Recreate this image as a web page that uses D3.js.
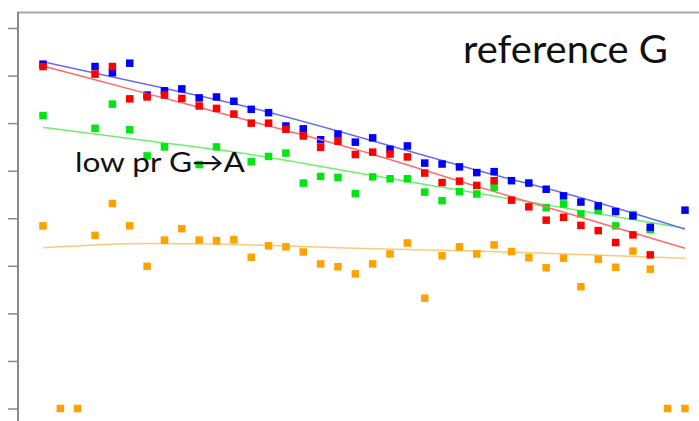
<!DOCTYPE html>
<html>
<head>
<meta charset="utf-8">
<script src="https://cdn.jsdelivr.net/npm/d3@7"></script>
<style>
  html, body { margin: 0; padding: 0; background: #fff; }
  svg { display: block; }
  .label { font-family: Lato, 'Open Sans', sans-serif; fill: #111; }
</style>
</head>
<body>
<svg id="chart" width="699" height="421"></svg>
<script>
// read position along the x axis (1..38)
const positions = [1, 2, 3, 4, 5, 6, 7, 8, 9, 10, 11, 12, 13, 14, 15, 16, 17, 18, 19,
  20, 21, 22, 23, 24, 25, 26, 27, 28, 29, 30, 31, 32, 33, 34, 35, 36, 37, 38];

// null = no point drawn at that position
const blueVals = [7.24, null, null, 7.19, 7.06, 7.26, 6.59, 6.68, 6.72, 6.53, 6.55, 6.46, 6.29,
  6.22, 5.94, 5.88, 5.65, 5.77, 5.60, 5.69, 5.45, 5.52, 5.16, 5.14, 5.08, 4.96, 4.98, 4.79,
  4.74, 4.61, 4.47, 4.34, 4.26, 4.14, 4.05, 3.81, null, 4.17];
const redVals = [7.19, null, null, 7.03, 7.19, 6.51, 6.55, 6.59, 6.52, 6.36, 6.31, 6.19, 6.00,
  6.00, 5.87, 5.73, 5.49, 5.62, 5.34, 5.39, 5.35, 5.29, 4.95, 4.75, 4.78, 4.69, 4.79, 4.38,
  4.24, 3.96, 4.02, 3.85, 3.74, 3.49, 3.65, 3.23, null, null];
const greenVals = [6.16, null, null, 5.89, 6.40, 5.86, 5.31, 5.50, null, 5.13, 5.50, null, 5.19,
  5.30, 5.37, 4.74, 4.88, 4.86, 4.52, 4.87, 4.83, 4.83, 4.55, 4.37, 4.56, 4.51, 4.65, null,
  null, 4.22, 4.30, 4.09, 4.16, 3.84, 4.08, 3.76, null, null];
const orangeVals = [3.84, 0, 0, 3.64, 4.31, 3.84, 2.99, 3.54, 3.78, 3.54, 3.53, 3.55, 3.18,
  3.42, 3.40, 3.29, 3.04, 2.98, 2.83, 3.04, 3.25, 3.48, 2.32, 3.21, 3.40, 3.25, 3.44, 3.30,
  3.17, 2.96, 3.16, 2.56, 3.14, 2.97, 3.31, 2.93, 0, 0];

// smoothed trend lines, read at a few positions
const fitPositions = [1, 7, 13, 19, 26, 32, 38];
const blueFit = [7.29, 6.81, 6.32, 5.73, 5.01, 4.43, 3.77];
const redFit = [7.20, 6.62, 6.04, 5.45, 4.67, 4.02, 3.37];
const greenFit = [5.91, 5.63, 5.34, 4.96, 4.53, 4.16, 3.79];
const orangeFit = [3.38, 3.47, 3.44, 3.37, 3.31, 3.24, 3.16];

const yTicks = [0, 1, 2, 3, 4, 5, 6, 7, 8];

const series = [
  { name: 'orange', vals: orangeVals, fit: orangeFit, color: '#ffa200', line: '#fcc97a' },
  { name: 'green', vals: greenVals, fit: greenFit, color: '#00e612', line: '#6cf06c' },
  { name: 'blue', vals: blueVals, fit: blueFit, color: '#0000ff', line: '#6a6af7' },
  { name: 'red', vals: redVals, fit: redFit, color: '#ff0000', line: '#ff6a6a' }
];

const svg = d3.select('#chart');

const x = d3.scaleLinear()
  .domain([1, 38])
  .range([43, 685]);
const y = d3.scaleLinear()
  .domain([0, 8])
  .range([408.5, 28]);

// frame: top border and left spine
svg.append('line')
  .attr('x1', 17).attr('x2', 699)
  .attr('y1', 12.5).attr('y2', 12.5)
  .attr('stroke', '#a8a8a8')
  .attr('stroke-width', 2);
svg.append('line')
  .attr('x1', 18).attr('x2', 18)
  .attr('y1', 12).attr('y2', 421)
  .attr('stroke', '#8a8a8a')
  .attr('stroke-width', 2);

const yAxis = svg.append('g')
  .attr('transform', 'translate(18,0)')
  .call(d3.axisLeft(y).tickValues(yTicks).tickSize(10).tickFormat(''));
yAxis.select('.domain').remove();
yAxis.selectAll('.tick line')
  .attr('stroke', '#8a8a8a')
  .attr('stroke-width', 1.5);

const line = d3.line()
  .x((d, i) => x(fitPositions[i]))
  .y(d => y(d))
  .curve(d3.curveMonotoneX);

const sq = 7.5;
series.forEach(s => {
  svg.append('path')
    .datum(s.fit)
    .attr('fill', 'none')
    .attr('stroke', s.line)
    .attr('stroke-width', 1.5)
    .attr('d', line);

  svg.append('g').selectAll('rect')
    .data(positions.map((p, i) => ({ p, v: s.vals[i] })).filter(d => d.v !== null))
    .enter().append('rect')
    .attr('x', d => x(d.p) - sq / 2)
    .attr('y', d => y(d.v) - sq / 2)
    .attr('width', sq)
    .attr('height', sq)
    .attr('fill', s.color);
});

svg.append('text')
  .attr('class', 'label')
  .attr('x', 463)
  .attr('y', 63)
  .attr('font-size', 38)
  .attr('textLength', 205)
  .attr('lengthAdjust', 'spacingAndGlyphs')
  .text('reference G');

svg.append('text')
  .attr('class', 'label')
  .attr('x', 75)
  .attr('y', 172)
  .attr('font-size', 27)
  .attr('textLength', 170)
  .attr('lengthAdjust', 'spacingAndGlyphs')
  .text('low pr G→A');
</script>
</body>
</html>
